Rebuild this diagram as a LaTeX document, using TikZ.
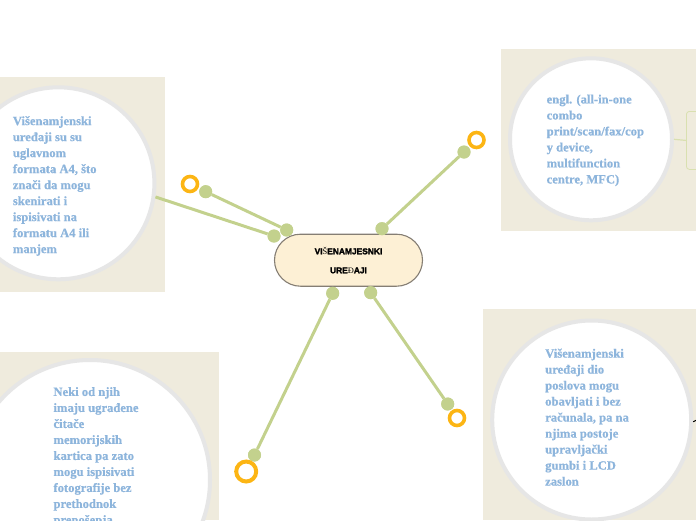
\documentclass[tikz,border=0pt]{standalone}
\usepackage{fontspec}
\setmainfont{Liberation Serif}[BoldFeatures={FakeBold=0.6}]
\newfontfamily\headfont{Liberation Sans}[BoldFeatures={FakeBold=2.5}]
\newfontfamily\fallfont{Liberation Serif}
\definecolor{panel}{HTML}{EFEBDD}
\definecolor{ringgray}{HTML}{E6E6E6}
\definecolor{txtblue}{HTML}{8DB5DC}
\definecolor{branch}{HTML}{C3D18D}
\definecolor{accent}{HTML}{FCB514}
\definecolor{nodefill}{HTML}{FDF0D5}
\definecolor{nodeedge}{HTML}{857E74}
\definecolor{boxedge}{HTML}{D9E0B0}
\tikzset{
  panelbox/.style={fill=panel, draw=none},
  bubble/.style={circle, fill=white, draw=ringgray, line width=4pt, inner sep=0pt},
  bubbletext/.style={anchor=north west, align=left, inner sep=0pt, text=txtblue,
     font=\fontsize{12.6}{16}\selectfont\bfseries},
  centralnode/.style={rounded corners=26pt, fill=nodefill, draw=nodeedge, line width=1.1pt,
     minimum width=148pt, minimum height=52pt, align=center,
     font=\fontsize{8.4}{19}\selectfont\headfont\bfseries},
  branchline/.style={draw=branch, line width=3pt},
  dot/.style={circle, fill=branch, inner sep=0pt, minimum size=13pt},
  ring/.style={circle, draw=accent, line width=3.6pt, fill=white, inner sep=0pt, minimum size=15pt},
  bigring/.style={ring, line width=4pt, minimum size=20pt},
}
\begin{document}
\begin{tikzpicture}[x=1pt,y=-1pt]
\useasboundingbox (0,0) rectangle (696,520);
% panels
\fill[panelbox] (0,77) rectangle (165,292);
\fill[panelbox] (501,49) rectangle (696,231);
\fill[panelbox] (483,309) rectangle (696,520);
\fill[panelbox] (0,352) rectangle (219,520);
% small box at top right
\node[draw=boxedge, rounded corners=3pt, line width=0.8pt, minimum width=30pt, minimum height=58pt, anchor=north west, inner sep=0pt] (rbox) at (686,111) {};
% bubbles
\node[bubble, minimum size=192pt] (bL) at (58.4,183.3) {};
\node[bubble, minimum size=162pt] (bTR) at (591,139.3) {};
\node[bubble, minimum size=199pt] (bBR) at (591.7,420) {};
\node[bubble, minimum size=240pt] (bBL) at (90,480) {};
% link to small box
\draw[boxedge, line width=1.2pt] (bTR.east) -- (rbox.west);
% black stub
\coordinate (stubend) at (700,418.3);
\draw[black, line width=1pt] (bBR.-1) -- (stubend);
% texts
\node[bubbletext] (tL) at (12.7,116) {Višenamjenski\\uređaji su su\\uglavnom\\formata A4, što\\znači da mogu\\skenirati i\\ispisivati na\\formatu A4 ili\\manjem};
\node[bubbletext] (tTR) at (546.5,94.5) {engl. (all-in-one\\combo\\print/scan/fax/cop\\y device,\\multifunction\\centre, MFC)};
\node[bubbletext] (tBR) at (545,348.5) {Višenamjenski\\uređaji dio\\poslova mogu\\obavljati i bez\\računala, pa na\\njima postoje\\upravljački\\gumbi i LCD\\zaslon};
\node[bubbletext] (tBL) at (53.3,387) {Neki od njih\\imaju ugrađene\\čitače\\memorijskih\\kartica pa zato\\mogu ispisivati\\fotografije bez\\prethodnok\\prenošenja};
% central node
\node[centralnode] (c) at (348.5,260.2) {VI{\fallfont\mdseries Š}ENAMJESNKI\\URE{\fallfont\mdseries Đ}AJI};
% dots
\node[dot] (d1) at (286.7,230) {};
\node[dot] (d2) at (274,236) {};
\node[dot] (d3) at (382,228.7) {};
\node[dot] (d4) at (332.7,293.3) {};
\node[dot] (d5) at (370.7,292.7) {};
\node[dot] (e1) at (205.7,191.7) {};
\node[dot] (e3) at (464,152) {};
\node[dot] (e4) at (254.5,455) {};
\node[dot] (e5) at (447.7,404) {};
% branches
\draw[branchline] (d1) -- (e1);
\draw[branchline] (d2) -- (bL.-8.5);
\draw[branchline] (d3) -- (e3);
\draw[branchline] (d4) -- (e4);
\draw[branchline] (d5) -- (e5);
% redraw dots on top
\foreach \n in {d1,d2,d3,d4,d5,e1,e3,e4,e5} {\fill[branch] (\n) circle (6.5pt);}
% rings
\node[ring] (r1) at (190,184) {};
\node[ring] (r3) at (476.5,140) {};
\node[bigring] (r4) at (246.2,471.5) {};
\node[ring] (r5) at (457,418) {};
\end{tikzpicture}
\end{document}
